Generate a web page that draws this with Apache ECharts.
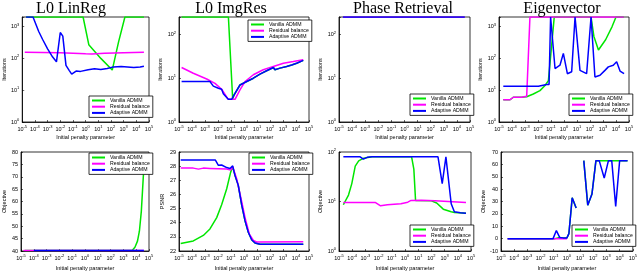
<!DOCTYPE html>
<html><head><meta charset="utf-8">
<script src="https://cdn.jsdelivr.net/npm/echarts@6/dist/echarts.min.js"></script>
<style>html,body{margin:0;padding:0;background:#fff}#c{width:640px;height:272px}</style>
</head><body><div id="c"></div>
<script>
// ---- data: points are [log10(initial penalty), value] ----
const seriesNames = ['Vanilla ADMM', 'Residual balance', 'Adaptive ADMM'];
const panelTitles = ['L0 LinReg', 'L0 ImgRes', 'Phase Retrieval', 'Eigenvector'];
const xTickExponents = [-5, -4, -3, -2, -1, 0, 1, 2, 3, 4, 5];

// Row 1: iterations
const linregItVanilla = [[-4.7,2000],[-0.2,2000],[0.25,270],[1.2,100],[2.1,43],[2.6,330],[3.1,2000],[4.6,2000]];
const linregItResidual = [[-4.8,155],[-2,150],[0,140],[0.5,138],[1.5,145],[3,150],[4.6,155]];
const linregItAdaptive = [[-4.7,2000],[-4.15,2000],[-3.7,700],[-3.4,400],[-3.0,200],[-2.6,110],[-2.3,78],[-2.0,650],[-1.8,500],[-1.55,60],[-1.3,42],[-1.1,32],[-0.75,40],[-0.4,39],[0.2,44],[0.7,47],[1.2,45],[1.7,48],[2.2,54],[2.8,56],[3.3,54],[3.8,52],[4.3,54],[4.6,57]];

const imgresItVanilla = [[-4.8,250],[-1.2,250],[-0.87,3.3],[-0.77,4.1],[-0.31,7],[0.21,8.4],[0.72,10],[1.23,12.4],[1.74,14.8],[2.26,17.6],[2.38,15.6],[2.77,17],[3.28,18.6],[3.67,20],[4.05,22],[4.56,25.5]];
const imgresItResidual = [[-4.8,17.6],[-3.9,13],[-2.87,9.6],[-2.23,7.6],[-1.72,5.6],[-1.21,3.3],[-0.69,3.3],[-0.31,5.4],[0.08,8.4],[0.72,12],[1.48,15.6],[2.26,18.6],[3.03,22],[3.79,24],[4.56,26.5]];
const imgresItAdaptive = [[-4.8,8.4],[-2.62,8.4],[-2.36,6.6],[-1.97,5.9],[-1.72,5.6],[-1.59,4.4],[-1.21,3.3],[-0.95,3.3],[-0.77,4.1],[-0.31,7],[0.21,8.4],[0.72,10],[1.23,12.4],[1.74,14.8],[2.26,17.6],[2.38,15.6],[2.77,17],[3.28,18.6],[3.67,20],[4.05,22],[4.56,25.5]];

const phaseItVanilla = [[-4.7,250],[4.6,250]];
const phaseItResidual = [[-4.7,250],[4.6,250]];
const phaseItAdaptive = [[-4.7,250],[4.6,250]];

const eigItVanilla = [[-4.67,5],[-4.15,5],[-3.9,6],[-3.26,6],[-2.87,6.2],[-2.36,7.6],[-1.85,9.7],[-1.46,14],[-1.2,20],[-0.75,2000],[2.08,2000],[2.3,490],[2.65,184],[3.2,385],[3.7,1000],[4.0,2000],[4.6,2000]];
const eigItResidual = [[-4.67,5],[-4.15,5],[-3.9,6],[-3.26,6],[-2.87,6.5],[-2.62,2000],[4.6,2000]];
const eigItAdaptive = [[-4.67,13.4],[-1.97,13.4],[-1.33,15],[-1.15,15],[-1.03,2000],[-0.69,48],[-0.31,61],[-0.05,144],[0.26,33],[0.59,38],[0.85,2000],[1.23,42],[1.74,33],[2.08,2000],[2.38,26],[2.77,29.5],[3.15,42],[3.41,54],[3.79,61],[4.05,78],[4.31,40],[4.62,33]];

// Row 2: objective / PSNR
const linregObjVanilla = [[-4.7,40.2],[3.7,40.3],[3.9,41.5],[4.1,44],[4.25,48],[4.4,56],[4.5,65],[4.6,74]];
const linregObjResidual = [[-4.8,40.25],[4.6,40.25]];
const linregObjAdaptive = [[-4.0,40.25],[4.6,40.25]];

const imgresPsnrVanilla = [[-4.87,22.53],[-3.9,22.71],[-3.13,23.1],[-2.62,23.56],[-2.1,24.36],[-1.72,25.27],[-1.33,26.4],[-1.03,27.56],[-0.87,27.95],[-0.69,27.33],[-0.44,26.64],[-0.18,25.27],[0.08,24.13],[0.33,23.33],[0.59,22.8],[0.85,22.57],[1.23,22.48],[4.56,22.48]];
const imgresPsnrResidual = [[-4.87,27.86],[-3.9,27.86],[-3.5,27.79],[-3.13,27.86],[-2.62,27.84],[-1.33,27.79],[-1.03,27.72],[-0.87,27.95],[-0.56,27.1],[-0.18,25.5],[0.08,24.36],[0.41,23.2],[0.72,22.75],[0.97,22.64],[4.56,22.66]];
const imgresPsnrAdaptive = [[-4.87,28.43],[-2.2,28.43],[-1.97,28.06],[-1.72,28.08],[-1.59,28.13],[-1.33,27.9],[-1.08,27.83],[-0.87,28.02],[-0.69,27.33],[-0.44,26.64],[-0.18,25.27],[0.08,24.13],[0.33,23.33],[0.59,22.8],[0.85,22.57],[1.23,22.48],[4.56,22.48]];

const phaseObjVanilla = [[-4.67,8.6],[-4.28,13.5],[-4.03,23],[-3.77,52],[-3.51,66],[-3.13,75],[-2.5,80],[0.5,80],[0.67,45],[0.8,10.5],[2.0,10.3],[2.4,9.3],[2.9,7],[3.5,6.2],[3.74,6.0],[4.62,5.8]];
const phaseObjResidual = [[-4.67,9.5],[-2.23,9.5],[-1.85,8.2],[-1.33,8.6],[-0.31,9],[0.21,9.7],[0.46,10.5],[1.23,10.6],[2.26,10.4],[3.28,10],[4.62,9.5]];
const phaseObjAdaptive = [[-4.67,80],[-3.4,80],[-3.15,72],[-2.87,78],[-2.5,80],[2.5,80],[2.82,23],[3.1,80],[3.5,9],[3.74,6.2],[4.2,5.9],[4.62,5.8]];

const eigObjVanilla = [[-4.5,0],[-0.9,0],[-0.55,1],[-0.3,0.5],[0,0.5],[0.15,4],[0.4,33],[0.7,24.8],[1.0,null],[1.28,63],[1.58,27],[1.9,36],[2.2,63],[4.6,63]];
const eigObjResidual = [[-4.5,0],[0,0]];
const eigObjAdaptive = [[-4.5,0],[-1.05,0],[-0.8,6.5],[-0.55,1],[-0.3,0.6],[0,0.6],[0.15,4],[0.4,33],[0.7,24.8],[1.0,null],[1.28,63],[1.58,27],[1.9,36],[2.2,63],[2.45,63],[2.83,49],[3.15,63],[3.4,63],[3.7,26],[4.0,63],[4.25,63],[4.6,63]];

const panelSeries = [
  [linregItVanilla, linregItResidual, linregItAdaptive],
  [imgresItVanilla, imgresItResidual, imgresItAdaptive],
  [phaseItVanilla, phaseItResidual, phaseItAdaptive],
  [eigItVanilla, eigItResidual, eigItAdaptive],
  [linregObjVanilla, linregObjResidual, linregObjAdaptive],
  [imgresPsnrVanilla, imgresPsnrResidual, imgresPsnrAdaptive],
  [phaseObjVanilla, phaseObjResidual, phaseObjAdaptive],
  [eigObjVanilla, eigObjResidual, eigObjAdaptive]
];
const yNames = ['Iterations','Iterations','Iterations','Iterations','Objective','PSNR','Objective','Objective'];

// ---- layout / style ----
const colors = ['#00e600', '#ff00ff', '#0000ff'];
const grids = [
  {left:19, top:17, width:130, height:105},
  {left:179, top:17, width:130, height:105},
  {left:339, top:17, width:131, height:105},
  {left:499, top:17, width:130, height:105},
  {left:19, top:152, width:130, height:102},
  {left:179, top:152, width:130, height:102},
  {left:339, top:152, width:132, height:102},
  {left:501, top:152, width:132, height:102}
];
const titleCenters = [71, 231, 403, 562];
const yAxisSpecs = [
  {type:'log', min:1, max:2000},
  {type:'log', min:1, max:250},
  {type:'log', min:1, max:250},
  {type:'log', min:1, max:2000},
  {type:'value', min:40, max:80, interval:5},
  {type:'value', min:22, max:29, interval:1},
  {type:'log', min:1, max:100},
  {type:'value', min:-10, max:70, interval:10}
];
const legendPos = [
  {left:89, top:96}, {left:248, top:20}, {left:410, top:94}, {left:569, top:94},
  {left:89, top:153}, {left:249, top:153}, {left:410, top:225}, {left:572, top:225}
];
const FONT = 'Liberation Sans';
const rich = {
  b: {fontSize:5.5, color:'#000', fontFamily:FONT, lineHeight:8},
  s: {fontSize:4, color:'#000', fontFamily:FONT, verticalAlign:'top', lineHeight:5}
};
function powLabel(e) { return '{b|10}{s|' + e + '}'; }

const option = {
  animation:false,
  backgroundColor:'#fff',
  title: panelTitles.map((t, i) => ({
    text:t, left: titleCenters[i], top:1, textAlign:'center', padding:0,
    textStyle:{fontFamily:'Liberation Serif', fontWeight:'normal', fontSize:16, color:'#000'}
  })),
  grid: grids.map(g => Object.assign({show:true, borderColor:'#000', borderWidth:0.8, backgroundColor:'#fff'}, g)),
  xAxis: grids.map((g, i) => ({
    type:'value', gridIndex:i, min:xTickExponents[0], max:xTickExponents[xTickExponents.length-1], interval:1,
    name:'Initial penalty parameter', nameLocation:'middle', nameGap: i < 4 ? 12 : 14,
    nameTextStyle:{fontSize:5.5, color:'#000', fontFamily:FONT},
    axisLine:{show:true, onZero:false, lineStyle:{color:'#000', width:0.8}},
    axisTick:{show:true, inside:true, length:2, lineStyle:{color:'#000', width:0.6}},
    axisLabel:{margin:3, formatter:v => powLabel(v), rich:rich},
    splitLine:{show:false}
  })),
  yAxis: yAxisSpecs.map((s, i) => {
    const ax = Object.assign({gridIndex:i}, s, {
      name:yNames[i], nameLocation:'middle', nameGap:14, nameRotate:90,
      nameTextStyle:{fontSize:5.5, color:'#000', fontFamily:FONT},
      axisLine:{show:true, onZero:false, lineStyle:{color:'#000', width:0.8}},
      axisTick:{show:true, inside:true, length:2, lineStyle:{color:'#000', width:0.6}},
      splitLine:{show:false}
    });
    if (s.type === 'log') {
      ax.axisLabel = {margin:3, rich:rich, formatter:v => {
        const l = Math.log10(v), e = Math.round(l);
        return Math.abs(l - e) > 1e-6 ? '' : powLabel(e);
      }};
    } else {
      ax.axisLabel = {margin:3, fontSize:5.5, color:'#000', fontFamily:FONT};
    }
    return ax;
  }),
  legend: legendPos.map(p => ({
    data:seriesNames, left:p.left, top:p.top, orient:'vertical', icon:'rect',
    itemWidth:13, itemHeight:2, itemGap:1.2, padding:[2,3,2,3],
    backgroundColor:'#fff', borderColor:'#000', borderWidth:0.8, selectedMode:false, z:10,
    textStyle:{fontSize:5.2, color:'#000', fontFamily:FONT}
  })),
  series: []
};
panelSeries.forEach((trio, i) => {
  trio.forEach((pts, k) => {
    option.series.push({
      type:'line', name:seriesNames[k], xAxisIndex:i, yAxisIndex:i,
      data: pts.map(p => [p[0], p[1] === null ? '-' : p[1]]),
      showSymbol:false, symbol:'none', connectNulls:false,
      color:colors[k], lineStyle:{color:colors[k], width:1.5}, z:2+k
    });
  });
});
const chart = echarts.init(document.getElementById('c'), null, {renderer:'canvas'});
chart.setOption(option);
</script></body></html>
